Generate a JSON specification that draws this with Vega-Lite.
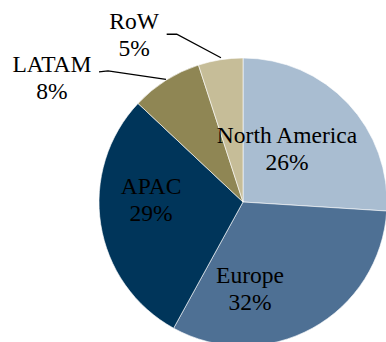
{
  "$schema": "https://vega.github.io/schema/vega-lite/v6.json",
  "width": 288,
  "height": 288,
  "autosize": "none",
  "padding": {"left": 99, "top": 58, "right": 0, "bottom": 0},
  "background": "white",
  "config": {"view": {"stroke": null}},
  "datasets": {
    "shares": [
      {"region": "North America", "share": 26},
      {"region": "Europe", "share": 32},
      {"region": "APAC", "share": 29},
      {"region": "LATAM", "share": 8},
      {"region": "RoW", "share": 5}
    ],
    "leaders": [
      {"leader": "LATAM", "i": 0, "x": -1.0, "y": 0.903},
      {"leader": "LATAM", "i": 1, "x": -0.9375, "y": 0.91},
      {"leader": "LATAM", "i": 2, "x": -0.535, "y": 0.851},
      {"leader": "RoW", "i": 0, "x": -0.53, "y": 1.165},
      {"leader": "RoW", "i": 1, "x": -0.46, "y": 1.165},
      {"leader": "RoW", "i": 2, "x": -0.153, "y": 1.002}
    ]
  },
  "layer": [
    {
      "data": {"name": "shares"},
      "transform": [{"window": [{"op": "row_number", "as": "idx"}]}],
      "mark": {"type": "arc", "stroke": "white", "strokeWidth": 0.6},
      "encoding": {
        "theta": {"field": "share", "type": "quantitative", "stack": true},
        "order": {"field": "idx", "type": "quantitative"},
        "color": {
          "field": "region", "type": "nominal",
          "scale": {"domain": ["North America", "Europe", "APAC", "LATAM", "RoW"], "range": ["#a9bdd1", "#4e7094", "#00355a", "#8f8654", "#c6bd98"]},
          "legend": null
        }
      }
    },
    {
      "data": {"name": "shares"},
      "transform": [{"window": [{"op": "row_number", "as": "idx"}]}, {"calculate": "[datum.region, datum.share + '%']", "as": "label"}],
      "mark": {"type": "text", "radius": 70, "dx": -7, "dy": -11.4, "fontSize": 23.5, "font": "Liberation Serif", "align": "center", "baseline": "alphabetic", "lineHeight": 27},
      "encoding": {
        "theta": {"field": "share", "type": "quantitative", "stack": true},
        "order": {"field": "idx", "type": "quantitative"},
        "detail": {"field": "region", "type": "nominal"},
        "fill": {"value": "black"},
        "text": {"condition": {"test": "datum.region === 'North America'", "field": "label"}, "value": ""}
      }
    },
    {
      "data": {"name": "shares"},
      "transform": [{"window": [{"op": "row_number", "as": "idx"}]}, {"calculate": "[datum.region, datum.share + '%']", "as": "label"}],
      "mark": {"type": "text", "radius": 80, "dx": -31.5, "dy": 10.9, "fontSize": 23.5, "font": "Liberation Serif", "align": "center", "baseline": "alphabetic", "lineHeight": 27},
      "encoding": {
        "theta": {"field": "share", "type": "quantitative", "stack": true},
        "order": {"field": "idx", "type": "quantitative"},
        "detail": {"field": "region", "type": "nominal"},
        "fill": {"value": "black"},
        "text": {"condition": {"test": "datum.region === 'Europe'", "field": "label"}, "value": ""}
      }
    },
    {
      "data": {"name": "shares"},
      "transform": [{"window": [{"op": "row_number", "as": "idx"}]}, {"calculate": "[datum.region, datum.share + '%']", "as": "label"}],
      "mark": {"type": "text", "radius": 90, "dx": -3, "dy": -22, "fontSize": 23.5, "font": "Liberation Serif", "align": "center", "baseline": "alphabetic", "lineHeight": 27},
      "encoding": {
        "theta": {"field": "share", "type": "quantitative", "stack": true},
        "order": {"field": "idx", "type": "quantitative"},
        "detail": {"field": "region", "type": "nominal"},
        "fill": {"value": "black"},
        "text": {"condition": {"test": "datum.region === 'APAC'", "field": "label"}, "value": ""}
      }
    },
    {
      "data": {"name": "shares"},
      "transform": [{"window": [{"op": "row_number", "as": "idx"}]}, {"calculate": "[datum.region, datum.share + '%']", "as": "label"}],
      "mark": {"type": "text", "radius": 180, "dx": -94.6, "dy": 22, "fontSize": 23.5, "font": "Liberation Serif", "align": "center", "baseline": "alphabetic", "lineHeight": 27},
      "encoding": {
        "theta": {"field": "share", "type": "quantitative", "stack": true},
        "order": {"field": "idx", "type": "quantitative"},
        "detail": {"field": "region", "type": "nominal"},
        "fill": {"value": "black"},
        "text": {"condition": {"test": "datum.region === 'LATAM'", "field": "label"}, "value": ""}
      }
    },
    {
      "data": {"name": "shares"},
      "transform": [{"window": [{"op": "row_number", "as": "idx"}]}, {"calculate": "[datum.region, datum.share + '%']", "as": "label"}],
      "mark": {"type": "text", "radius": 180, "dx": -80.8, "dy": 4.8, "fontSize": 23.5, "font": "Liberation Serif", "align": "center", "baseline": "alphabetic", "lineHeight": 27},
      "encoding": {
        "theta": {"field": "share", "type": "quantitative", "stack": true},
        "order": {"field": "idx", "type": "quantitative"},
        "detail": {"field": "region", "type": "nominal"},
        "fill": {"value": "black"},
        "text": {"condition": {"test": "datum.region === 'RoW'", "field": "label"}, "value": ""}
      }
    },
    {
      "data": {"name": "leaders"},
      "mark": {"type": "line", "color": "black", "strokeWidth": 1.3},
      "encoding": {
        "x": {"field": "x", "type": "quantitative", "scale": {"domain": [-1, 1], "nice": false, "zero": false}, "axis": null},
        "y": {"field": "y", "type": "quantitative", "scale": {"domain": [-1, 1], "nice": false, "zero": false}, "axis": null},
        "detail": {"field": "leader", "type": "nominal"},
        "order": {"field": "i", "type": "quantitative"}
      }
    }
  ]
}
